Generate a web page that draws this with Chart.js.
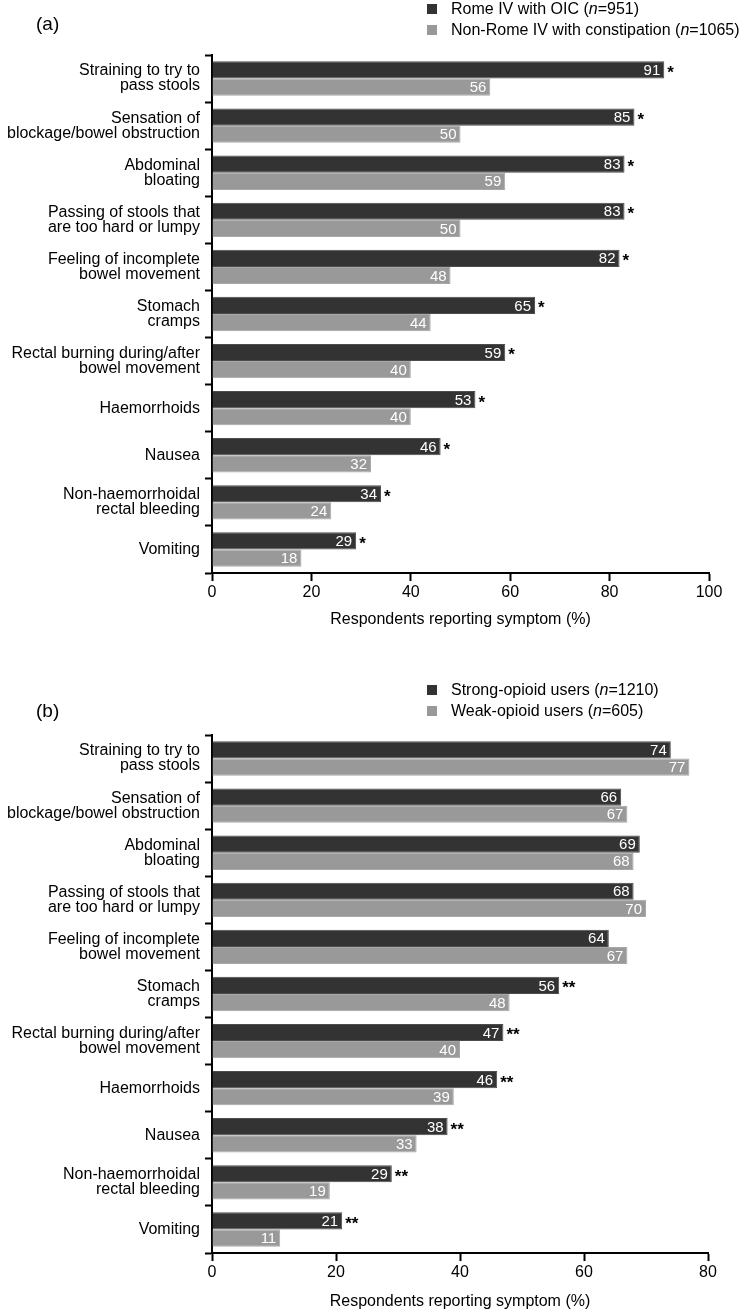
<!DOCTYPE html>
<html><head><meta charset="utf-8">
<script src="https://cdn.jsdelivr.net/npm/chart.js@4.4.1/dist/chart.umd.min.js"></script>
<style>
html,body{margin:0;padding:0;background:#fff;}
#wrap{position:relative;width:750px;height:1313px;overflow:hidden;}
canvas{position:absolute;left:0;}
</style></head><body>
<div id="wrap">
<canvas id="ca" width="750" height="656" style="top:0px"></canvas>
<canvas id="cb" width="750" height="657" style="top:656px"></canvas>
</div>
<script>
// ---------- data ----------
const categories = [
  ["Straining to try to", "pass stools"],
  ["Sensation of", "blockage/bowel obstruction"],
  ["Abdominal", "bloating"],
  ["Passing of stools that", "are too hard or lumpy"],
  ["Feeling of incomplete", "bowel movement"],
  ["Stomach", "cramps"],
  ["Rectal burning during/after", "bowel movement"],
  ["Haemorrhoids"],
  ["Nausea"],
  ["Non-haemorrhoidal", "rectal bleeding"],
  ["Vomiting"]
];
const panelA = "(a)";
const panelB = "(b)";
const seriesA1Label = "Rome IV with OIC (n=951)";
const seriesA2Label = "Non-Rome IV with constipation (n=1065)";
const seriesA1 = [91, 85, 83, 83, 82, 65, 59, 53, 46, 34, 29];
const seriesA2 = [56, 50, 59, 50, 48, 44, 40, 40, 32, 24, 18];
const sigA = ["*", "*", "*", "*", "*", "*", "*", "*", "*", "*", "*"];
const ticksA = [0, 20, 40, 60, 80, 100];

const seriesB1Label = "Strong-opioid users (n=1210)";
const seriesB2Label = "Weak-opioid users (n=605)";
const seriesB1 = [74, 66, 69, 68, 64, 56, 47, 46, 38, 29, 21];
const seriesB2 = [77, 67, 68, 70, 67, 48, 40, 39, 33, 19, 11];
const sigB = ["", "", "", "", "", "**", "**", "**", "**", "**", "**"];
const ticksB = [0, 20, 40, 60, 80];

const xTitle = "Respondents reporting symptom (%)";

// ---------- styling ----------
const DARK = "#333333";
const LIGHT = "#999999";
const FONT = '"Liberation Sans", Arial, Helvetica, sans-serif';

function drawRich(ctx, text, x, y, size) {
  const m = text.match(/^(.*\()n(=.*)$/);
  const parts = m ? [[m[1], false], ["n", true], [m[2], false]] : [[text, false]];
  let cx = x;
  for (const [t, it] of parts) {
    ctx.font = (it ? "italic " : "") + size + "px " + FONT;
    ctx.fillText(t, cx, y);
    cx += ctx.measureText(t).width;
  }
}

const decorPlugin = {
  id: "decor",
  afterDatasetsDraw(chart, args, opts) {
    const ctx = chart.ctx;
    ctx.save();
    chart.data.datasets.forEach((ds, di) => {
      const meta = chart.getDatasetMeta(di);
      meta.data.forEach((bar, i) => {
        const v = ds.data[i];
        ctx.font = "15px " + FONT;
        ctx.fillStyle = "#ffffff";
        ctx.textAlign = "right";
        ctx.textBaseline = "middle";
        ctx.fillText(String(v), bar.x - 4, bar.y + 1);
        const s = di === 0 && opts.sig ? opts.sig[i] : "";
        if (s) {
          ctx.fillStyle = "#000";
          ctx.textAlign = "left";
          ctx.textBaseline = "alphabetic";
          ctx.font = "bold 17px " + FONT;
          ctx.fillText(s, bar.x + 3, bar.y + 8);
        }
      });
    });
    // panel letter
    ctx.fillStyle = "#000";
    ctx.textAlign = "left";
    ctx.textBaseline = "middle";
    ctx.font = "19px " + FONT;
    ctx.fillText(opts.panel, 36, opts.panelY);
    // legend
    chart.data.datasets.forEach((ds, di) => {
      const y = opts.legendY[di];
      ctx.fillStyle = ds.backgroundColor;
      ctx.fillRect(427, y - 5, 10, 10);
      ctx.fillStyle = "#000";
      ctx.textBaseline = "middle";
      drawRich(ctx, ds.label, 451, y + 1, 16);
    });
    ctx.restore();
  }
};

function makeChart(id, c) {
  return new Chart(document.getElementById(id), {
    type: "bar",
    data: {
      labels: categories,
      datasets: [
        { label: c.l1, data: c.d1, backgroundColor: DARK, borderColor: "#4c4c4c", borderWidth: 1,
          categoryPercentage: 0.73, barPercentage: 1.0 },
        { label: c.l2, data: c.d2, backgroundColor: LIGHT, borderColor: "#a8a8a8", borderWidth: 1,
          categoryPercentage: 0.73, barPercentage: 1.0 }
      ]
    },
    options: {
      indexAxis: "y",
      responsive: false,
      animation: false,
      devicePixelRatio: 1,
      layout: { padding: { top: c.top, right: c.right, left: 0, bottom: 0 } },
      plugins: {
        legend: { display: false },
        tooltip: { enabled: false },
        decor: { sig: c.sig, panel: c.panel, panelY: c.panelY, legendY: c.legendY }
      },
      scales: {
        x: {
          type: "linear",
          min: 0, max: c.max,
          afterBuildTicks: (s) => { s.ticks = c.ticks.map(v => ({ value: v })); },
          ticks: { color: "#000", font: { family: FONT, size: 16 }, padding: 2 },
          grid: { drawOnChartArea: false, drawTicks: true, tickLength: 8, tickWidth: 2, tickColor: "#000", color: "#000" },
          border: { display: true, color: "#000", width: 2 },
          title: { display: true, text: xTitle, color: "#000", font: { family: FONT, size: 16 },
                   padding: { top: 0, bottom: c.titlePad } },
          afterFit: (s) => { s.height = c.xh; }
        },
        y: {
          type: "category",
          ticks: { color: "#000", font: { family: FONT, size: 16, lineHeight: "15px" }, padding: 5 },
          grid: { offset: true, drawOnChartArea: false, drawTicks: true, tickLength: 7, tickWidth: 2, tickColor: "#000", color: "#000" },
          border: { display: true, color: "#000", width: 2 },
          afterFit: (s) => { s.width = 212; }
        }
      }
    },
    plugins: [decorPlugin]
  });
}

makeChart("ca", {
  l1: seriesA1Label, l2: seriesA2Label, d1: seriesA1, d2: seriesA2, sig: sigA,
  max: 100, ticks: ticksA, top: 55, right: 41, xh: 83, titlePad: 27,
  panel: panelA, panelY: 25, legendY: [9, 30]
});
makeChart("cb", {
  l1: seriesB1Label, l2: seriesB2Label, d1: seriesB1, d2: seriesB2, sig: sigB,
  max: 80, ticks: ticksB, top: 79, right: 42, xh: 60, titlePad: 2,
  panel: panelB, panelY: 56, legendY: [34, 55]
});
</script>
</body></html>
